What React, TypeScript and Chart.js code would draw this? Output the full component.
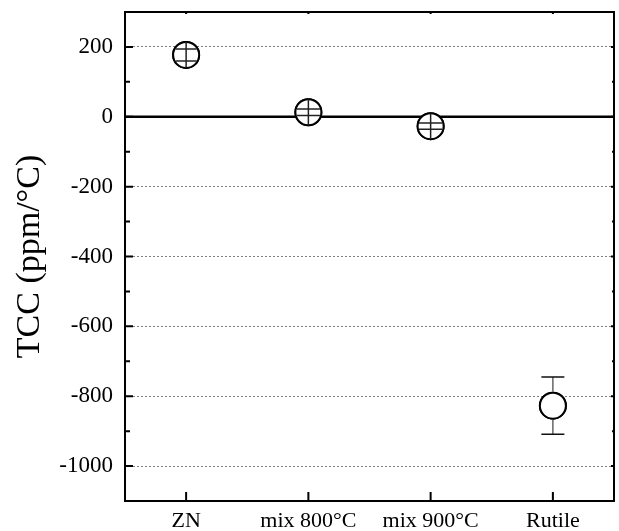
import React, { useEffect, useRef } from "react";
import { Chart, registerables } from "chart.js";

Chart.register(...registerables);

const categories = ["ZN", "mix 800°C", "mix 900°C", "Rutile"];
const tccValues = [177, 13, -27, -827];
const tccErrors = [17, 9, 9, 82];
const yMajorTicks = [-1000, -800, -600, -400, -200, 0, 200];
const yMinorTicks = [-1100, -900, -700, -500, -300, -100, 100, 300];
const yMin = -1100;
const yMax = 300;

const FONT = "'Liberation Serif', 'Times New Roman', serif";
const R = 13;

const decorPlugin = {
  id: "decor",
  afterDatasetsDraw(chart: any) {
    const ctx = chart.ctx;
    const { left, right, top, bottom } = chart.chartArea;
    const y = chart.scales.y;
    const x = chart.scales.x;
    ctx.save();
    ctx.strokeStyle = "#000";
    ctx.lineWidth = 2.5;
    ctx.beginPath();
    const y0 = y.getPixelForValue(0);
    ctx.moveTo(left, y0);
    ctx.lineTo(right, y0);
    ctx.stroke();
    const meta = chart.getDatasetMeta(0);
    const r = R;
    meta.data.forEach((pt: any, i: number) => {
      const cx = pt.x;
      const cy = pt.y;
      ctx.beginPath();
      ctx.arc(cx, cy, r, 0, Math.PI * 2);
      ctx.fillStyle = "#fff";
      ctx.fill();
      ctx.lineWidth = 2;
      ctx.strokeStyle = "#000";
      ctx.stroke();
      const yt = y.getPixelForValue(tccValues[i] + tccErrors[i]);
      const yb = y.getPixelForValue(tccValues[i] - tccErrors[i]);
      const half = 11.5;
      ctx.lineWidth = 1.5;
      if (cy - yt < r) {
        ctx.strokeStyle = "#222";
        ctx.beginPath();
        ctx.moveTo(cx, cy - r);
        ctx.lineTo(cx, cy + r);
        const ht = Math.sqrt(Math.max(r * r - (cy - yt) * (cy - yt), 0)) - 1;
        const hb = Math.sqrt(Math.max(r * r - (yb - cy) * (yb - cy), 0)) - 1;
        ctx.moveTo(cx - ht, yt);
        ctx.lineTo(cx + ht, yt);
        ctx.moveTo(cx - hb, yb);
        ctx.lineTo(cx + hb, yb);
        ctx.stroke();
      } else {
        ctx.strokeStyle = "#666";
        ctx.beginPath();
        ctx.moveTo(cx, yt);
        ctx.lineTo(cx, cy - r - 1);
        ctx.moveTo(cx, cy + r + 1);
        ctx.lineTo(cx, yb);
        ctx.stroke();
        ctx.strokeStyle = "#111";
        ctx.beginPath();
        ctx.moveTo(cx - half, yt);
        ctx.lineTo(cx + half, yt);
        ctx.moveTo(cx - half, yb);
        ctx.lineTo(cx + half, yb);
        ctx.stroke();
      }
    });
    ctx.strokeStyle = "#000";
    ctx.lineWidth = 2;
    ctx.strokeRect(left, top, right - left, bottom - top);
    ctx.lineWidth = 2;
    ctx.beginPath();
    yMajorTicks.forEach((v) => {
      const py = y.getPixelForValue(v);
      ctx.moveTo(left, py);
      ctx.lineTo(left + 8, py);
      ctx.moveTo(right, py);
      ctx.lineTo(right - 3, py);
    });
    yMinorTicks.forEach((v) => {
      const py = y.getPixelForValue(v);
      ctx.moveTo(left, py);
      ctx.lineTo(left + 5, py);
      ctx.moveTo(right, py);
      ctx.lineTo(right - 2, py);
    });
    categories.forEach((_c, i) => {
      const px = x.getPixelForValue(i);
      ctx.moveTo(px, bottom);
      ctx.lineTo(px, bottom - 9);
      ctx.moveTo(px, top);
      ctx.lineTo(px, top + 2);
    });
    ctx.stroke();
    ctx.restore();
  },
};

export default function App() {
  const ref = useRef<HTMLCanvasElement>(null);
  useEffect(() => {
    if (!ref.current) return;
    const chart = new Chart(ref.current, {
      type: "line",
      data: {
        labels: categories,
        datasets: [
          {
            data: tccValues,
            showLine: false,
            pointStyle: "circle",
            pointRadius: R,
            pointBorderWidth: 2,
            pointBorderColor: "#000",
            pointBackgroundColor: "#fff",
          },
        ],
      },
      options: {
        animation: false,
        responsive: false,
        maintainAspectRatio: false,
        layout: { autoPadding: false, padding: { left: 0, right: 5, top: 12, bottom: 0 } },
        plugins: { legend: { display: false }, tooltip: { enabled: false } },
        scales: {
          x: {
            type: "category",
            offset: true,
            grid: { display: false, drawTicks: false },
            border: { display: false },
            ticks: {
              color: "#000",
              padding: 7,
              maxRotation: 0,
              autoSkip: false,
              font: { family: FONT, size: 22 },
            },
            afterFit(axis: any) {
              axis.height = 30;
              axis.paddingLeft = 0;
              axis.paddingRight = 0;
            },
          },
          y: {
            type: "linear",
            min: yMin,
            max: yMax,
            afterBuildTicks(axis: any) {
              axis.ticks = yMajorTicks.map((v) => ({ value: v }));
            },
            afterFit(axis: any) {
              axis.width = 125;
              axis.paddingTop = 0;
              axis.paddingBottom = 0;
            },
            grid: {
              drawTicks: false,
              color: "#808080",
              lineWidth: 1,
            },
            border: { display: false, dash: [2, 2] },
            ticks: {
              color: "#000",
              padding: 12,
              font: { family: FONT, size: 23 },
              callback: (v: any) => String(v),
            },
            title: {
              display: true,
              text: "TCC (ppm/°C)",
              color: "#000",
              padding: { top: 10, bottom: 0 },
              font: { family: FONT, size: 34 },
            },
          },
        },
      },
      plugins: [decorPlugin],
    });
    return () => chart.destroy();
  }, []);
  return (
    <div style={{ position: "fixed", left: 0, top: 0, width: 619, height: 531, background: "#fff" }}>
      <canvas ref={ref} width={619} height={531} style={{ display: "block" }} />
    </div>
  );
}
